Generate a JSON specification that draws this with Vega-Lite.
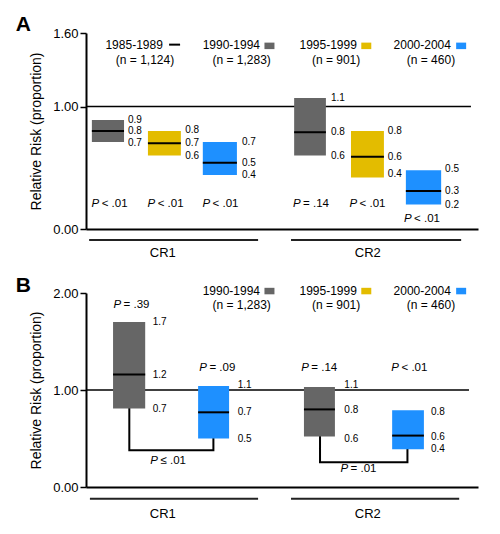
{
  "$schema": "https://vega.github.io/schema/vega-lite/v6.json",
  "padding": {"left": 15, "top": 13, "right": 5, "bottom": 5},
  "spacing": 64,
  "bounds": "flush",
  "config": {
    "view": {"stroke": null},
    "font": "Liberation Sans",
    "axis": {"grid": false, "domainColor": "#000", "domainWidth": 2, "tickColor": "#000", "labelColor": "#000", "titleColor": "#000", "labelFont": "Liberation Sans", "titleFont": "Liberation Sans"},
    "axisX": {"domain": true, "ticks": false, "labels": false, "title": null},
    "axisY": {"format": ".2f", "tickSize": 6, "tickWidth": 1.5, "labelFontSize": 13, "labelPadding": 2, "titleFontSize": 14, "titleFontWeight": "normal", "titlePadding": 9},
    "text": {"color": "#000", "font": "Liberation Sans"}
  },
  "datasets": {
    "boxA": [
      {"cr": "CR1", "period": "1990-1994", "x": 1.5, "x2": 9.7, "lo": 0.71, "med": 0.80, "hi": 0.89},
      {"cr": "CR1", "period": "1995-1999", "x": 15.8, "x2": 24.2, "lo": 0.60, "med": 0.70, "hi": 0.80},
      {"cr": "CR1", "period": "2000-2004", "x": 29.8, "x2": 38.5, "lo": 0.44, "med": 0.54, "hi": 0.71},
      {"cr": "CR2", "period": "1990-1994", "x": 53.1, "x2": 61.2, "lo": 0.60, "med": 0.79, "hi": 1.07},
      {"cr": "CR2", "period": "1995-1999", "x": 67.6, "x2": 76.0, "lo": 0.42, "med": 0.59, "hi": 0.80},
      {"cr": "CR2", "period": "2000-2004", "x": 81.6, "x2": 90.6, "lo": 0.20, "med": 0.31, "hi": 0.48}
    ],
    "valA": [
      {"x": 10.7, "y": 0.89, "t": "0.9"}, {"x": 10.7, "y": 0.80, "t": "0.8"}, {"x": 10.7, "y": 0.70, "t": "0.7"},
      {"x": 25.3, "y": 0.81, "t": "0.8"}, {"x": 25.3, "y": 0.70, "t": "0.7"}, {"x": 25.3, "y": 0.60, "t": "0.6"},
      {"x": 39.8, "y": 0.71, "t": "0.7"}, {"x": 39.8, "y": 0.54, "t": "0.5"}, {"x": 39.8, "y": 0.44, "t": "0.4"},
      {"x": 62.5, "y": 1.07, "t": "1.1"}, {"x": 62.5, "y": 0.79, "t": "0.8"}, {"x": 62.5, "y": 0.60, "t": "0.6"},
      {"x": 77.0, "y": 0.80, "t": "0.8"}, {"x": 77.0, "y": 0.59, "t": "0.6"}, {"x": 77.0, "y": 0.45, "t": "0.4"},
      {"x": 91.6, "y": 0.49, "t": "0.5"}, {"x": 91.6, "y": 0.31, "t": "0.3"}, {"x": 91.6, "y": 0.20, "t": "0.2"}
    ],
    "pA": [
      {"x": 5.9, "y": 0.207, "p": "< .01"}, {"x": 20.2, "y": 0.207, "p": "< .01"}, {"x": 34.2, "y": 0.207, "p": "< .01"},
      {"x": 57.3, "y": 0.207, "p": "= .14"}, {"x": 71.7, "y": 0.207, "p": "< .01"}, {"x": 85.6, "y": 0.08, "p": "< .01"}
    ],
    "legTitleA": [
      {"x": 19.6, "y": 1.50, "t": "1985-1989"}, {"x": 44.4, "y": 1.50, "t": "1990-1994"},
      {"x": 69.1, "y": 1.50, "t": "1995-1999"}, {"x": 93.1, "y": 1.50, "t": "2000-2004"}
    ],
    "legNA": [
      {"x": 15.05, "y": 1.38, "t": "(n = 1,124)"}, {"x": 39.7, "y": 1.38, "t": "(n = 1,283)"},
      {"x": 63.8, "y": 1.38, "t": "(n = 901)"}, {"x": 88.0, "y": 1.38, "t": "(n = 460)"}
    ],
    "legSqA": [
      {"x": 46.8, "y": 1.495, "period": "1990-1994"}, {"x": 71.5, "y": 1.495, "period": "1995-1999"}, {"x": 95.7, "y": 1.495, "period": "2000-2004"}
    ],
    "legTitleB": [
      {"x": 44.4, "y": 2.02, "t": "1990-1994"}, {"x": 69.1, "y": 2.02, "t": "1995-1999"}, {"x": 93.1, "y": 2.02, "t": "2000-2004"}
    ],
    "legNB": [
      {"x": 39.7, "y": 1.876, "t": "(n = 1,283)"}, {"x": 63.8, "y": 1.876, "t": "(n = 901)"}, {"x": 88.0, "y": 1.876, "t": "(n = 460)"}
    ],
    "legSqB": [
      {"x": 46.8, "y": 2.02, "period": "1990-1994"}, {"x": 71.5, "y": 2.02, "period": "1995-1999"}, {"x": 95.7, "y": 2.02, "period": "2000-2004"}
    ],
    "boxB": [
      {"cr": "CR1", "period": "1990-1994", "x": 6.9, "x2": 15.1, "lo": 0.81, "med": 1.16, "hi": 1.70},
      {"cr": "CR1", "period": "2000-2004", "x": 28.6, "x2": 36.5, "lo": 0.50, "med": 0.77, "hi": 1.04},
      {"cr": "CR2", "period": "1990-1994", "x": 55.6, "x2": 63.5, "lo": 0.52, "med": 0.80, "hi": 1.03},
      {"cr": "CR2", "period": "2000-2004", "x": 78.1, "x2": 86.2, "lo": 0.39, "med": 0.53, "hi": 0.79}
    ],
    "valB": [
      {"x": 17.0, "y": 1.70, "t": "1.7"}, {"x": 17.0, "y": 1.15, "t": "1.2"}, {"x": 17.0, "y": 0.80, "t": "0.7"},
      {"x": 38.7, "y": 1.05, "t": "1.1"}, {"x": 38.7, "y": 0.77, "t": "0.7"}, {"x": 38.7, "y": 0.49, "t": "0.5"},
      {"x": 65.9, "y": 1.055, "t": "1.1"}, {"x": 65.9, "y": 0.79, "t": "0.8"}, {"x": 65.9, "y": 0.50, "t": "0.6"},
      {"x": 88.0, "y": 0.77, "t": "0.8"}, {"x": 88.0, "y": 0.52, "t": "0.6"}, {"x": 88.0, "y": 0.39, "t": "0.4"}
    ],
    "pB": [
      {"x": 11.5, "y": 1.873, "p": "= .39"}, {"x": 33.4, "y": 1.227, "p": "= .09"},
      {"x": 59.4, "y": 1.227, "p": "= .14"}, {"x": 82.4, "y": 1.227, "p": "< .01"},
      {"x": 20.9, "y": 0.272, "p": "≤ .01"}, {"x": 69.4, "y": 0.19, "p": "= .01"}
    ],
    "bracketB": [
      {"b": 1, "o": 1, "x": 11.05, "y": 0.81}, {"b": 1, "o": 2, "x": 11.05, "y": 0.378}, {"b": 1, "o": 3, "x": 32.5, "y": 0.378}, {"b": 1, "o": 4, "x": 32.5, "y": 0.50},
      {"b": 2, "o": 1, "x": 59.7, "y": 0.52}, {"b": 2, "o": 2, "x": 59.7, "y": 0.255}, {"b": 2, "o": 3, "x": 82.0, "y": 0.255}, {"b": 2, "o": 4, "x": 82.0, "y": 0.39}
    ]
  },
  "vconcat": [
    {
      "width": 392,
      "height": 196,
      "layer": [
        {
          "data": {"values": [{"x": 0, "x2": 98.2, "y": 1}]},
          "mark": {"type": "rule", "strokeWidth": 1.5, "color": "#000"},
          "encoding": {
            "x": {"field": "x", "type": "quantitative", "scale": {"domain": [0, 100], "nice": false, "zero": false}, "axis": {"title": null}},
            "x2": {"field": "x2"},
            "y": {"field": "y", "type": "quantitative", "scale": {"domain": [0, 1.6], "nice": false, "zero": false}, "axis": {"values": [0, 1, 1.6], "title": "Relative Risk (proportion)"}}
          }
        },
        {
          "data": {"name": "boxA"},
          "mark": {"type": "rect"},
          "encoding": {
            "x": {"field": "x", "type": "quantitative"},
            "x2": {"field": "x2"},
            "y": {"field": "lo", "type": "quantitative"},
            "y2": {"field": "hi"},
            "color": {"field": "period", "type": "nominal", "scale": {"domain": ["1990-1994", "1995-1999", "2000-2004"], "range": ["#666666", "#E3BC00", "#1E90FF"]}, "legend": null}
          }
        },
        {
          "data": {"name": "boxA"},
          "mark": {"type": "rule", "strokeWidth": 2, "color": "#000"},
          "encoding": {
            "x": {"field": "x", "type": "quantitative"},
            "x2": {"field": "x2"},
            "y": {"field": "med", "type": "quantitative"}
          }
        },
        {
          "data": {"name": "valA"},
          "mark": {"type": "text", "align": "left", "baseline": "middle", "fontSize": 10},
          "encoding": {
            "x": {"field": "x", "type": "quantitative"},
            "y": {"field": "y", "type": "quantitative"},
            "text": {"field": "t"}
          }
        },
        {
          "data": {"name": "pA"},
          "mark": {"type": "text", "align": "right", "baseline": "middle", "fontSize": 11.5, "fontStyle": "italic", "dx": -10},
          "encoding": {
            "x": {"field": "x", "type": "quantitative"},
            "y": {"field": "y", "type": "quantitative"},
            "text": {"value": "P"}
          }
        },
        {
          "data": {"name": "pA"},
          "mark": {"type": "text", "align": "left", "baseline": "middle", "fontSize": 11.5, "dx": -7.5},
          "encoding": {
            "x": {"field": "x", "type": "quantitative"},
            "y": {"field": "y", "type": "quantitative"},
            "text": {"field": "p"}
          }
        },
        {
          "data": {"name": "legTitleA"},
          "mark": {"type": "text", "align": "right", "baseline": "middle", "fontSize": 12},
          "encoding": {
            "x": {"field": "x", "type": "quantitative"},
            "y": {"field": "y", "type": "quantitative"},
            "text": {"field": "t"}
          }
        },
        {
          "data": {"name": "legNA"},
          "mark": {"type": "text", "align": "center", "baseline": "middle", "fontSize": 12},
          "encoding": {
            "x": {"field": "x", "type": "quantitative"},
            "y": {"field": "y", "type": "quantitative"},
            "text": {"field": "t"}
          }
        },
        {
          "data": {"name": "legSqA"},
          "mark": {"type": "point", "filled": true, "opacity": 1, "size": 100, "shape": "M-1,-0.65L1,-0.65L1,0.65L-1,0.65Z", "strokeWidth": 0},
          "encoding": {
            "x": {"field": "x", "type": "quantitative"},
            "y": {"field": "y", "type": "quantitative"},
            "color": {"field": "period", "type": "nominal", "legend": null}
          }
        },
        {
          "data": {"values": [{"x": 21.2, "x2": 24.0, "y": 1.505}]},
          "mark": {"type": "rule", "strokeWidth": 2, "color": "#000"},
          "encoding": {
            "x": {"field": "x", "type": "quantitative"},
            "x2": {"field": "x2"},
            "y": {"field": "y", "type": "quantitative"}
          }
        },
        {
          "data": {"values": [{"x": 0.8, "x2": 43.9, "y": -0.09}, {"x": 52.3, "x2": 95.7, "y": -0.09}]},
          "mark": {"type": "rule", "strokeWidth": 2, "color": "#222"},
          "encoding": {
            "x": {"field": "x", "type": "quantitative"},
            "x2": {"field": "x2"},
            "y": {"field": "y", "type": "quantitative"}
          }
        },
        {
          "data": {"values": [{"x": 19.6, "y": -0.193, "t": "CR1"}, {"x": 71.9, "y": -0.193, "t": "CR2"}]},
          "mark": {"type": "text", "align": "center", "baseline": "middle", "fontSize": 13},
          "encoding": {
            "x": {"field": "x", "type": "quantitative"},
            "y": {"field": "y", "type": "quantitative"},
            "text": {"field": "t"}
          }
        },
        {
          "data": {"values": [{"x": -17.9, "y": 1.758, "t": "A"}]},
          "mark": {"type": "text", "align": "left", "baseline": "top", "fontSize": 21, "fontWeight": "bold"},
          "encoding": {
            "x": {"field": "x", "type": "quantitative"},
            "y": {"field": "y", "type": "quantitative"},
            "text": {"field": "t"}
          }
        }
      ]
    },
    {
      "width": 392,
      "height": 194,
      "layer": [
        {
          "data": {"values": [{"x": 0, "x2": 97.7, "y": 1}]},
          "mark": {"type": "rule", "strokeWidth": 1.5, "color": "#000"},
          "encoding": {
            "x": {"field": "x", "type": "quantitative", "scale": {"domain": [0, 100], "nice": false, "zero": false}, "axis": {"title": null}},
            "x2": {"field": "x2"},
            "y": {"field": "y", "type": "quantitative", "scale": {"domain": [0, 2], "nice": false, "zero": false}, "axis": {"values": [0, 1, 2], "title": "Relative Risk (proportion)"}}
          }
        },
        {
          "data": {"name": "bracketB"},
          "mark": {"type": "line", "strokeWidth": 2, "color": "#000", "strokeCap": "square"},
          "encoding": {
            "x": {"field": "x", "type": "quantitative"},
            "y": {"field": "y", "type": "quantitative"},
            "detail": {"field": "b"},
            "order": {"field": "o"}
          }
        },
        {
          "data": {"name": "boxB"},
          "mark": {"type": "rect"},
          "encoding": {
            "x": {"field": "x", "type": "quantitative"},
            "x2": {"field": "x2"},
            "y": {"field": "lo", "type": "quantitative"},
            "y2": {"field": "hi"},
            "color": {"field": "period", "type": "nominal", "scale": {"domain": ["1990-1994", "1995-1999", "2000-2004"], "range": ["#666666", "#E3BC00", "#1E90FF"]}, "legend": null}
          }
        },
        {
          "data": {"name": "boxB"},
          "mark": {"type": "rule", "strokeWidth": 2, "color": "#000"},
          "encoding": {
            "x": {"field": "x", "type": "quantitative"},
            "x2": {"field": "x2"},
            "y": {"field": "med", "type": "quantitative"}
          }
        },
        {
          "data": {"name": "valB"},
          "mark": {"type": "text", "align": "left", "baseline": "middle", "fontSize": 10},
          "encoding": {
            "x": {"field": "x", "type": "quantitative"},
            "y": {"field": "y", "type": "quantitative"},
            "text": {"field": "t"}
          }
        },
        {
          "data": {"name": "pB"},
          "mark": {"type": "text", "align": "right", "baseline": "middle", "fontSize": 11.5, "fontStyle": "italic", "dx": -10},
          "encoding": {
            "x": {"field": "x", "type": "quantitative"},
            "y": {"field": "y", "type": "quantitative"},
            "text": {"value": "P"}
          }
        },
        {
          "data": {"name": "pB"},
          "mark": {"type": "text", "align": "left", "baseline": "middle", "fontSize": 11.5, "dx": -7.5},
          "encoding": {
            "x": {"field": "x", "type": "quantitative"},
            "y": {"field": "y", "type": "quantitative"},
            "text": {"field": "p"}
          }
        },
        {
          "data": {"name": "legTitleB"},
          "mark": {"type": "text", "align": "right", "baseline": "middle", "fontSize": 12},
          "encoding": {
            "x": {"field": "x", "type": "quantitative"},
            "y": {"field": "y", "type": "quantitative"},
            "text": {"field": "t"}
          }
        },
        {
          "data": {"name": "legNB"},
          "mark": {"type": "text", "align": "center", "baseline": "middle", "fontSize": 12},
          "encoding": {
            "x": {"field": "x", "type": "quantitative"},
            "y": {"field": "y", "type": "quantitative"},
            "text": {"field": "t"}
          }
        },
        {
          "data": {"name": "legSqB"},
          "mark": {"type": "point", "filled": true, "opacity": 1, "size": 100, "shape": "M-1,-0.65L1,-0.65L1,0.65L-1,0.65Z", "strokeWidth": 0},
          "encoding": {
            "x": {"field": "x", "type": "quantitative"},
            "y": {"field": "y", "type": "quantitative"},
            "color": {"field": "period", "type": "nominal", "legend": null}
          }
        },
        {
          "data": {"values": [{"x": 1.0, "x2": 43.9, "y": -0.12}, {"x": 52.3, "x2": 95.2, "y": -0.12}]},
          "mark": {"type": "rule", "strokeWidth": 2, "color": "#222"},
          "encoding": {
            "x": {"field": "x", "type": "quantitative"},
            "x2": {"field": "x2"},
            "y": {"field": "y", "type": "quantitative"}
          }
        },
        {
          "data": {"values": [{"x": 19.6, "y": -0.28, "t": "CR1"}, {"x": 71.9, "y": -0.28, "t": "CR2"}]},
          "mark": {"type": "text", "align": "center", "baseline": "middle", "fontSize": 13},
          "encoding": {
            "x": {"field": "x", "type": "quantitative"},
            "y": {"field": "y", "type": "quantitative"},
            "text": {"field": "t"}
          }
        },
        {
          "data": {"values": [{"x": -17.9, "y": 2.186, "t": "B"}]},
          "mark": {"type": "text", "align": "left", "baseline": "top", "fontSize": 21, "fontWeight": "bold"},
          "encoding": {
            "x": {"field": "x", "type": "quantitative"},
            "y": {"field": "y", "type": "quantitative"},
            "text": {"field": "t"}
          }
        }
      ]
    }
  ]
}
